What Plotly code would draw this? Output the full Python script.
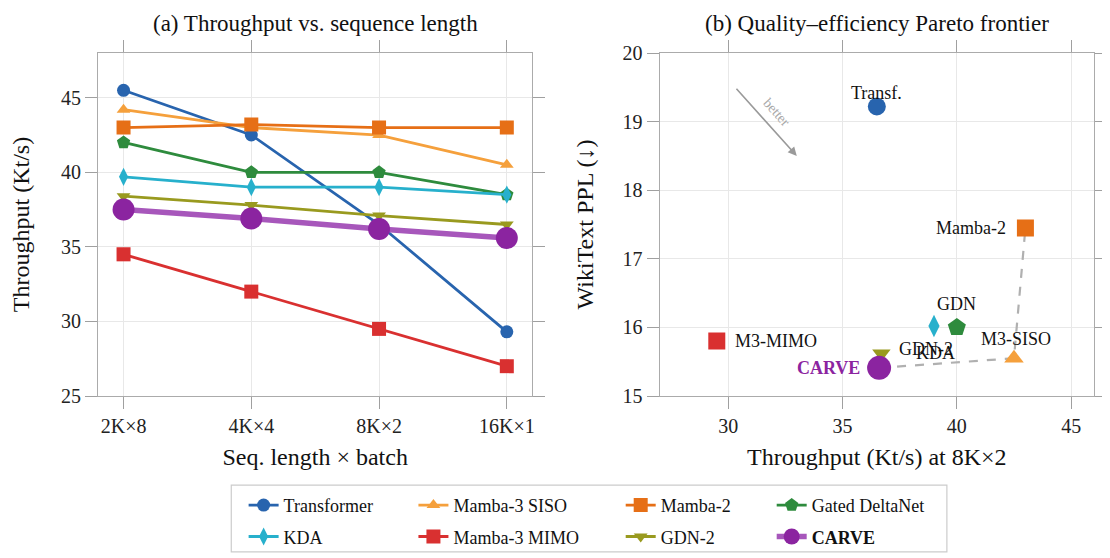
import plotly.graph_objects as go

# ---------------- data ----------------
seq_labels = ["2K×8", "4K×4", "8K×2", "16K×1"]

models = ["Transformer", "Mamba-3 SISO", "Mamba-2", "Gated DeltaNet",
          "KDA", "Mamba-3 MIMO", "GDN-2", "CARVE"]

thr_transformer = [45.5, 42.5, 36.5, 29.3]
thr_m3_siso = [44.2, 43.0, 42.5, 40.5]
thr_mamba2 = [43.0, 43.2, 43.0, 43.0]
thr_gdn = [42.0, 40.0, 40.0, 38.5]
thr_kda = [39.7, 39.0, 39.0, 38.5]
thr_m3_mimo = [34.5, 32.0, 29.5, 27.0]
thr_gdn2 = [38.4, 37.8, 37.1, 36.5]
thr_carve = [37.5, 36.9, 36.2, 35.6]

# Pareto panel: throughput at 8Kx2 and WikiText PPL
pareto_thr = [36.5, 42.5, 43.0, 40.0, 39.0, 29.5, 36.7, 36.6]
pareto_ppl = [19.22, 15.55, 17.45, 16.0, 16.02, 15.8, 15.62, 15.41]
short_labels = ["Transf.", "M3-SISO", "Mamba-2", "GDN", "KDA", "M3-MIMO", "GDN-2", "CARVE"]
frontier = ["CARVE", "Mamba-3 SISO", "Mamba-2"]

thr_series = [thr_transformer, thr_m3_siso, thr_mamba2, thr_gdn,
              thr_kda, thr_m3_mimo, thr_gdn2, thr_carve]

# ---------------- styles ----------------
FONT = "Liberation Serif, Times New Roman, serif"
colors = {
    "Transformer": "#2864ae", "Mamba-3 SISO": "#f5a03c", "Mamba-2": "#e66f16",
    "Gated DeltaNet": "#2e8b3d", "KDA": "#27b0cc", "Mamba-3 MIMO": "#d93030",
    "GDN-2": "#999a1f", "CARVE": "#8b24a0",
}
line_colors = dict(colors)
line_colors["CARVE"] = "#a757bb"
symbols = {
    "Transformer": "circle", "Mamba-3 SISO": "triangle-up", "Mamba-2": "square",
    "Gated DeltaNet": "pentagon", "KDA": "diamond-tall", "Mamba-3 MIMO": "square",
    "GDN-2": "triangle-down", "CARVE": "circle",
}
size_left = {"Transformer": 13, "Mamba-3 SISO": 12, "Mamba-2": 14, "Gated DeltaNet": 14,
             "KDA": 13, "Mamba-3 MIMO": 14, "GDN-2": 12, "CARVE": 22}
size_right = {"Transformer": 18, "Mamba-3 SISO": 17, "Mamba-2": 17, "Gated DeltaNet": 19,
              "KDA": 16, "Mamba-3 MIMO": 17, "GDN-2": 16, "CARVE": 24}
legend_of = {"Transformer": "legend", "KDA": "legend",
             "Mamba-3 SISO": "legend2", "Mamba-3 MIMO": "legend2",
             "Mamba-2": "legend3", "GDN-2": "legend3",
             "Gated DeltaNet": "legend4", "CARVE": "legend4"}

fig = go.Figure()

# ---------------- panel (a) ----------------
for name, vals in zip(models, thr_series):
    is_carve = name == "CARVE"
    fig.add_trace(go.Scatter(
        x=seq_labels, y=vals, mode="lines+markers",
        name="<b>CARVE</b>" if is_carve else name,
        legend=legend_of[name], legendgroup=name,
        line=dict(color=line_colors[name], width=5.5 if is_carve else 2.8),
        marker=dict(symbol=symbols[name], size=size_left[name], color=colors[name],
                    line=dict(width=0)),
        xaxis="x", yaxis="y",
    ))

# ---------------- panel (b) ----------------
fx = [pareto_thr[models.index(m)] for m in frontier]
fy = [pareto_ppl[models.index(m)] for m in frontier]
fig.add_trace(go.Scatter(x=fx, y=fy, mode="lines", showlegend=False,
                         line=dict(color="#b0b0b0", width=2.2, dash="dash"),
                         xaxis="x2", yaxis="y2", hoverinfo="skip"))

for i, name in enumerate(models):
    fig.add_trace(go.Scatter(
        x=[pareto_thr[i]], y=[pareto_ppl[i]], mode="markers", showlegend=False,
        legendgroup=name,
        marker=dict(symbol=symbols[name], size=size_right[name], color=colors[name],
                    line=dict(width=0)),
        xaxis="x2", yaxis="y2",
    ))

# point labels (offsets in px)
label_pos = {
    "Transformer": dict(xanchor="center", yanchor="middle", xshift=0, yshift=14),
    "Mamba-2": dict(xanchor="right", yanchor="middle", xshift=-17, yshift=0),
    "Gated DeltaNet": dict(xanchor="center", yanchor="middle", xshift=0, yshift=23),
    "Mamba-3 SISO": dict(xanchor="center", yanchor="middle", xshift=2, yshift=19),
    "Mamba-3 MIMO": dict(xanchor="left", yanchor="middle", xshift=16, yshift=0),
    "GDN-2": dict(xanchor="left", yanchor="middle", xshift=16, yshift=4),
    "KDA": dict(xanchor="left", yanchor="middle", xshift=-20, yshift=-27),
    "CARVE": dict(xanchor="right", yanchor="middle", xshift=-17, yshift=0),
}
annotations = []
for i, name in enumerate(models):
    is_carve = name == "CARVE"
    annotations.append(dict(
        x=pareto_thr[i], y=pareto_ppl[i], xref="x2", yref="y2",
        text="<b>%s</b>" % short_labels[i] if is_carve else short_labels[i],
        showarrow=False,
        font=dict(family=FONT, size=18, color=colors["CARVE"] if is_carve else "#111111"),
        **label_pos[name],
    ))

# "better" arrow
annotations.append(dict(x=33.0, y=18.5, ax=30.3, ay=19.5, xref="x2", yref="y2",
                        axref="x2", ayref="y2", text="", showarrow=True,
                        arrowhead=2, arrowsize=1.1, arrowwidth=1.6, arrowcolor="#9a9a9a"))
annotations.append(dict(x=32.13, y=19.14, xref="x2", yref="y2", text="better",
                        showarrow=False, textangle=48,
                        font=dict(family=FONT, size=14, color="#a8a8a8")))

# panel titles
annotations.append(dict(x=0.218, y=1.0857, xref="paper", yref="paper",
                        text="(a) Throughput vs. sequence length", showarrow=False,
                        xanchor="center", yanchor="middle",
                        font=dict(family=FONT, size=23, color="#111111")))
annotations.append(dict(x=0.782, y=1.0857, xref="paper", yref="paper",
                        text="(b) Quality–efficiency Pareto frontier", showarrow=False,
                        xanchor="center", yanchor="middle",
                        font=dict(family=FONT, size=23, color="#111111")))

axis_common = dict(
    showline=True, linecolor="#ababab", linewidth=1.2, mirror="ticks",
    ticks="outside", ticklen=12, tickcolor="#a0a0a0", tickwidth=1.2,
    showgrid=True, gridcolor="#e8e8e8", gridwidth=1, zeroline=False,
    tickfont=dict(family=FONT, size=20, color="#222222"),
)

legend_common = dict(
    orientation="v", bgcolor="rgba(0,0,0,0)", borderwidth=0,
    font=dict(family=FONT, size=18, color="#111111"),
    xanchor="left", yanchor="top", y=-0.265, tracegroupgap=5,
    itemclick=False, itemdoubleclick=False,
)

fig.update_layout(
    width=1110, height=558,
    margin=dict(l=90, r=11, t=45, b=163),
    paper_bgcolor="white", plot_bgcolor="white",
    font=dict(family=FONT, color="#111111"),
    xaxis=dict(domain=[0, 0.4361], type="category", range=[-0.2, 3.2], anchor="y",
               title=dict(text="Seq. length × batch", standoff=12,
                          font=dict(family=FONT, size=24)),
               **axis_common),
    yaxis=dict(domain=[0, 1], range=[25, 48], tickvals=[25, 30, 35, 40, 45], anchor="x",
               title=dict(text="Throughput (Kt/s)", standoff=24,
                          font=dict(family=FONT, size=24)),
               **axis_common),
    xaxis2=dict(domain=[0.5639, 1], range=[27, 46], tickvals=[30, 35, 40, 45], anchor="y2",
                title=dict(text="Throughput (Kt/s) at 8K×2", standoff=12,
                           font=dict(family=FONT, size=24)),
                **axis_common),
    yaxis2=dict(domain=[0, 1], range=[15, 20], tickvals=[15, 16, 17, 18, 19, 20], anchor="x2",
                title=dict(text="WikiText PPL (↓)", standoff=22,
                           font=dict(family=FONT, size=24)),
                **axis_common),
    legend=dict(x=0.1462, **legend_common),
    legend2=dict(x=0.3167, **legend_common),
    legend3=dict(x=0.5248, **legend_common),
    legend4=dict(x=0.6764, **legend_common),
    annotations=annotations,
    shapes=[dict(type="rect", xref="paper", yref="paper",
                 x0=0.1338, x1=0.8523, y0=-0.4543, y1=-0.26,
                 line=dict(color="#cccccc", width=1.2), fillcolor="rgba(0,0,0,0)")],
    showlegend=True,
)

fig.write_html("out.html")
